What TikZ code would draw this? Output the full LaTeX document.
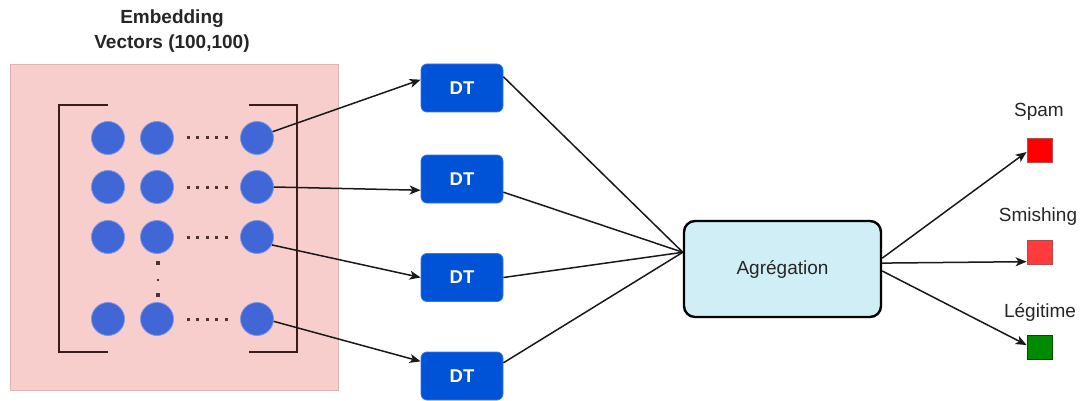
\documentclass[tikz,border=0pt]{standalone}
\usepackage{fontspec}
\setmainfont{Liberation Sans}
\usetikzlibrary{arrows.meta,calc}

\definecolor{pinkfill}{HTML}{F8CECC}
\definecolor{pinkline}{HTML}{E0B4B2}
\definecolor{dotblue}{HTML}{4166D5}
\definecolor{dotedge}{HTML}{7A96E6}
\definecolor{bracketcol}{HTML}{3A1C1C}
\definecolor{dtfill}{HTML}{0052D6}
\definecolor{dtline}{HTML}{3A78E2}
\definecolor{aggfill}{HTML}{D0EEF6}
\definecolor{spamred}{HTML}{FF0000}
\definecolor{smishred}{HTML}{FF3B3B}
\definecolor{legitgreen}{HTML}{008A00}

\tikzset{
  lbl/.style={font=\fontsize{19}{25}\selectfont, text=black!85, inner sep=0pt},
  vecdot/.style={circle, fill=dotblue, draw=dotedge, line width=0.8pt, minimum size=33pt, inner sep=0pt},
  dtbox/.style={rectangle, rounded corners=6pt, fill=dtfill, draw=dtline, line width=0.8pt,
    minimum width=82pt, minimum height=48pt, inner sep=0pt, text=white,
    font=\bfseries\fontsize{18.5}{22}\selectfont},
  aggbox/.style={rectangle, rounded corners=11pt, fill=aggfill, draw=black, line width=2.4pt,
    minimum width=197pt, minimum height=96pt, inner sep=0pt, text=black!85,
    font=\fontsize{19}{22}\selectfont},
  outbox/.style={rectangle, minimum width=25pt, minimum height=24pt, inner sep=0pt, line width=0.8pt},
  link/.style={draw=black!90, line width=1.5pt},
  arrowlink/.style={link, -{Stealth[length=11pt,width=9pt,inset=3pt]}},
  sep/.style={fill=bracketcol!90},
}

\begin{document}
\begin{tikzpicture}[x=1pt,y=-1pt]
\useasboundingbox (0,0) rectangle (1081,401);

% embedding matrix panel
\node[lbl, font=\bfseries\fontsize{19}{25}\selectfont, align=center] (title) at (172,31) {Embedding\\Vectors (100,100)};
\filldraw[fill=pinkfill, draw=pinkline, line width=0.8pt] (10,64) rectangle (338,390);

% brackets
\draw[bracketcol, line width=1.4pt] (108,105) -- (59,105) -- (59,352) -- (108,352);
\draw[bracketcol, line width=1.4pt] (249,105) -- (297,105) -- (297,352) -- (249,352);

% matrix entries
\foreach \r/\y in {1/138,2/187,3/237,4/319}{
  \node[vecdot] (c\r a) at (108,\y) {};
  \node[vecdot] (c\r b) at (157,\y) {};
  \node[vecdot] (c\r z) at (257,\y) {};
  \foreach \x in {188,197.5,207,216.5,226}{
    \fill[sep] (\x-1.5,\y-1.5) rectangle ++(3,3);
  }
}
% vertical ellipsis
\fill[sep] (156,261) rectangle ++(4,4);
\fill[sep] (156.8,278.8) rectangle ++(2.4,2.4);
\fill[sep] (156,293) rectangle ++(4,4);

% decision trees
\node[dtbox] (dt1) at (462,88) {DT};
\node[dtbox] (dt2) at (462,179) {DT};
\node[dtbox] (dt3) at (462,277.5) {DT};
\node[dtbox] (dt4) at (462,376) {DT};

% aggregation
\node[aggbox] (agg) at (782.5,269) {Agrégation};

% outputs
\node[outbox, fill=spamred, draw=red!60!black!70] (spam) at (1039.5,150) {};
\node[outbox, fill=smishred, draw=red!55!black!70] (smish) at (1039.5,252.5) {};
\node[outbox, fill=legitgreen, draw=green!30!black] (legit) at (1039.5,347) {};
\node[lbl] (spamlbl) at (1039,112) {Spam};
\node[lbl] (smishlbl) at (1038,217) {Smishing};
\node[lbl] (legitlbl) at (1040,312) {Légitime};

% rows into the trees
\draw[arrowlink] (c1z.22) -- ($(dt1.north west)!0.33!(dt1.south west)$);
\draw[arrowlink] (c2z.east) -- ($(dt2.north west)!0.73!(dt2.south west)$);
\draw[arrowlink] (c3z.-28) -- ($(dt3.north west)!0.5!(dt3.south west)$);
\draw[arrowlink] (c4z.-8) -- ($(dt4.north west)!0.2!(dt4.south west)$);

% trees into the aggregation
\coordinate (aggin) at ($(agg.north west)!0.33!(agg.south west)$);
\draw[link] ($(dt1.north east)!0.27!(dt1.south east)$) -- (aggin);
\draw[link] ($(dt2.north east)!0.77!(dt2.south east)$) -- (aggin);
\draw[link] ($(dt3.north east)!0.5!(dt3.south east)$) -- (aggin);
\draw[link] ($(dt4.north east)!0.23!(dt4.south east)$) -- (aggin);

% aggregation to the classes
\draw[arrowlink] ($(agg.north east)!0.39!(agg.south east)$) -- ($(spam.north west)!0.58!(spam.south west)$);
\draw[arrowlink] ($(agg.north east)!0.44!(agg.south east)$) -- ($(smish.north west)!0.87!(smish.south west)$);
\draw[arrowlink] ($(agg.north east)!0.52!(agg.south east)$) -- ($(legit.north west)!0.42!(legit.south west)$);
\end{tikzpicture}
\end{document}
